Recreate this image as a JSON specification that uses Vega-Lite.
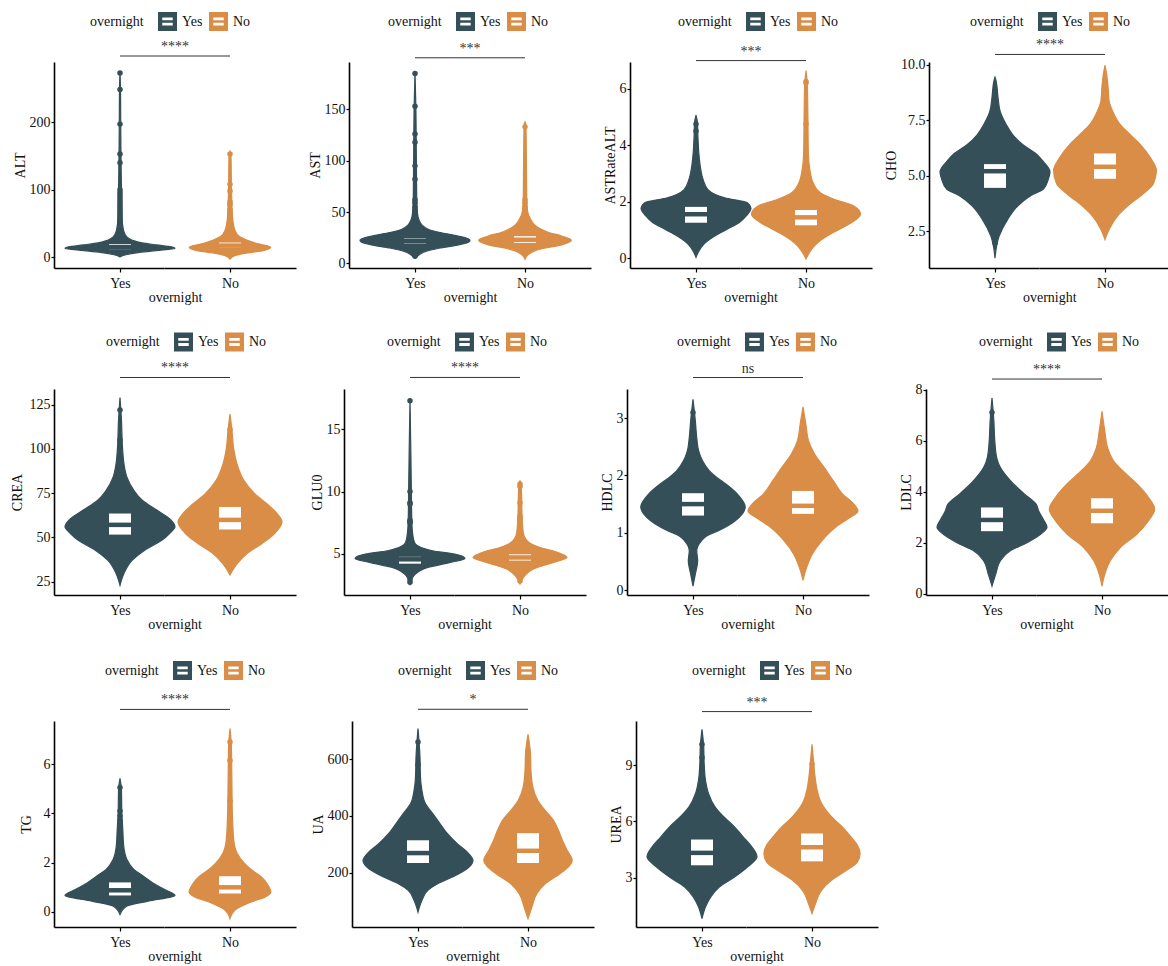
{
"$schema": "https://vega.github.io/schema/vega-lite/v6.json",
"padding": {"left": 10, "top": 12, "right": 0, "bottom": 0},
"background": "white",
"config": {
  "font": "Liberation Serif",
  "view": {"stroke": null},
  "axis": {"labelFont": "Liberation Serif", "titleFont": "Liberation Serif", "labelFontSize": 14, "titleFontSize": 14, "titleFontWeight": "normal", "labelColor": "#111", "titleColor": "#111", "domainColor": "#000", "domainWidth": 1.6, "tickColor": "#000", "tickWidth": 1.2, "tickSize": 3, "labelPadding": 1, "titlePadding": 2, "grid": false},
  "axisX": {"tickSize": 4, "labelPadding": 4},
  "title": {"font": "Liberation Serif", "fontSize": 14, "fontWeight": "normal", "color": "#111", "orient": "bottom", "anchor": "middle", "offset": 1},
  "legend": {"orient": "none", "direction": "horizontal", "titleOrient": "left", "symbolType": "M-1,-1H1V1H-1Z M-0.55,-0.42V-0.12H0.55V-0.42Z M-0.55,0.12V0.42H0.55V0.12Z", "symbolSize": 361, "symbolStrokeWidth": 0, "labelFont": "Liberation Serif", "labelFontSize": 14, "labelColor": "#111", "titleFont": "Liberation Serif", "titleFontSize": 14, "titleFontWeight": "normal", "titleColor": "#111", "labelOffset": 5, "columnPadding": 6, "titlePadding": 14}
},
"datasets": {"all": [
{"v":"ALT","g":"Yes","k":"d","y":0,"d":0},{"v":"ALT","g":"Yes","k":"d","y":3,"d":0.089},{"v":"ALT","g":"Yes","k":"d","y":7,"d":0.357},{"v":"ALT","g":"Yes","k":"d","y":10,"d":0.714},{"v":"ALT","g":"Yes","k":"d","y":12,"d":0.938},{"v":"ALT","g":"Yes","k":"d","y":13,"d":1},{"v":"ALT","g":"Yes","k":"d","y":15,"d":0.938},{"v":"ALT","g":"Yes","k":"d","y":18,"d":0.67},{"v":"ALT","g":"Yes","k":"d","y":21,"d":0.402},{"v":"ALT","g":"Yes","k":"d","y":25,"d":0.223},{"v":"ALT","g":"Yes","k":"d","y":30,"d":0.125},{"v":"ALT","g":"Yes","k":"d","y":40,"d":0.063},{"v":"ALT","g":"Yes","k":"d","y":60,"d":0.036},{"v":"ALT","g":"Yes","k":"d","y":100,"d":0.027},{"v":"ALT","g":"Yes","k":"d","y":150,"d":0.018},{"v":"ALT","g":"Yes","k":"d","y":200,"d":0.013},{"v":"ALT","g":"Yes","k":"d","y":250,"d":0.009},{"v":"ALT","g":"Yes","k":"d","y":275,"d":0},
{"v":"ALT","g":"No","k":"d","y":-3,"d":0},{"v":"ALT","g":"No","k":"d","y":2,"d":0.089},{"v":"ALT","g":"No","k":"d","y":6,"d":0.313},{"v":"ALT","g":"No","k":"d","y":10,"d":0.625},{"v":"ALT","g":"No","k":"d","y":14,"d":0.741},{"v":"ALT","g":"No","k":"d","y":17,"d":0.67},{"v":"ALT","g":"No","k":"d","y":20,"d":0.491},{"v":"ALT","g":"No","k":"d","y":25,"d":0.313},{"v":"ALT","g":"No","k":"d","y":30,"d":0.179},{"v":"ALT","g":"No","k":"d","y":40,"d":0.089},{"v":"ALT","g":"No","k":"d","y":60,"d":0.045},{"v":"ALT","g":"No","k":"d","y":100,"d":0.027},{"v":"ALT","g":"No","k":"d","y":150,"d":0.018},{"v":"ALT","g":"No","k":"d","y":157,"d":0},
{"v":"ALT","g":"Yes","k":"b","q1":11.5,"med":14.5,"q3":19},{"v":"ALT","g":"No","k":"b","q1":14,"med":17,"q3":21.5},
{"v":"ALT","g":"Yes","k":"o","y":273.6},{"v":"ALT","g":"Yes","k":"o","y":249},{"v":"ALT","g":"Yes","k":"o","y":197.5},{"v":"ALT","g":"Yes","k":"o","y":153},{"v":"ALT","g":"Yes","k":"o","y":140},{"v":"ALT","g":"Yes","k":"o","y":100},{"v":"ALT","g":"Yes","k":"o","y":96},{"v":"ALT","g":"Yes","k":"o","y":92},{"v":"ALT","g":"Yes","k":"o","y":88},{"v":"ALT","g":"Yes","k":"o","y":84},{"v":"ALT","g":"Yes","k":"o","y":80},{"v":"ALT","g":"Yes","k":"o","y":76},{"v":"ALT","g":"Yes","k":"o","y":72},{"v":"ALT","g":"Yes","k":"o","y":68},{"v":"ALT","g":"Yes","k":"o","y":64},{"v":"ALT","g":"Yes","k":"o","y":60},{"v":"ALT","g":"Yes","k":"o","y":56},{"v":"ALT","g":"Yes","k":"o","y":52},{"v":"ALT","g":"Yes","k":"o","y":48},{"v":"ALT","g":"Yes","k":"o","y":44},{"v":"ALT","g":"Yes","k":"o","y":40},
{"v":"ALT","g":"No","k":"o","y":153},{"v":"ALT","g":"No","k":"o","y":108},{"v":"ALT","g":"No","k":"o","y":98},{"v":"ALT","g":"No","k":"o","y":82},{"v":"ALT","g":"No","k":"o","y":78},{"v":"ALT","g":"No","k":"o","y":70},{"v":"ALT","g":"No","k":"o","y":65},{"v":"ALT","g":"No","k":"o","y":60},{"v":"ALT","g":"No","k":"o","y":56},{"v":"ALT","g":"No","k":"o","y":52},{"v":"ALT","g":"No","k":"o","y":48},{"v":"ALT","g":"No","k":"o","y":44},{"v":"ALT","g":"No","k":"o","y":40},
{"v":"ALT","g":"Yes","k":"s","y":298.7,"lab":"****"},{"v":"ALT","g":"No","k":"s","y":298.7,"lab":"****"},
{"v":"AST","g":"Yes","k":"d","y":5,"d":0},{"v":"AST","g":"Yes","k":"d","y":8,"d":0.067},{"v":"AST","g":"Yes","k":"d","y":12,"d":0.208},{"v":"AST","g":"Yes","k":"d","y":15,"d":0.458},{"v":"AST","g":"Yes","k":"d","y":18,"d":0.792},{"v":"AST","g":"Yes","k":"d","y":21,"d":0.983},{"v":"AST","g":"Yes","k":"d","y":22.5,"d":1},{"v":"AST","g":"Yes","k":"d","y":24,"d":0.967},{"v":"AST","g":"Yes","k":"d","y":27,"d":0.75},{"v":"AST","g":"Yes","k":"d","y":30,"d":0.458},{"v":"AST","g":"Yes","k":"d","y":33,"d":0.25},{"v":"AST","g":"Yes","k":"d","y":37,"d":0.133},{"v":"AST","g":"Yes","k":"d","y":42,"d":0.075},{"v":"AST","g":"Yes","k":"d","y":50,"d":0.042},{"v":"AST","g":"Yes","k":"d","y":60,"d":0.033},{"v":"AST","g":"Yes","k":"d","y":100,"d":0.025},{"v":"AST","g":"Yes","k":"d","y":150,"d":0.017},{"v":"AST","g":"Yes","k":"d","y":187,"d":0},
{"v":"AST","g":"No","k":"d","y":4,"d":0},{"v":"AST","g":"No","k":"d","y":8,"d":0.05},{"v":"AST","g":"No","k":"d","y":12,"d":0.167},{"v":"AST","g":"No","k":"d","y":15,"d":0.375},{"v":"AST","g":"No","k":"d","y":18,"d":0.667},{"v":"AST","g":"No","k":"d","y":21,"d":0.817},{"v":"AST","g":"No","k":"d","y":22.5,"d":0.842},{"v":"AST","g":"No","k":"d","y":24,"d":0.808},{"v":"AST","g":"No","k":"d","y":27,"d":0.65},{"v":"AST","g":"No","k":"d","y":30,"d":0.433},{"v":"AST","g":"No","k":"d","y":34,"d":0.267},{"v":"AST","g":"No","k":"d","y":38,"d":0.167},{"v":"AST","g":"No","k":"d","y":44,"d":0.092},{"v":"AST","g":"No","k":"d","y":50,"d":0.05},{"v":"AST","g":"No","k":"d","y":60,"d":0.033},{"v":"AST","g":"No","k":"d","y":100,"d":0.025},{"v":"AST","g":"No","k":"d","y":135,"d":0.017},{"v":"AST","g":"No","k":"d","y":138,"d":0},
{"v":"AST","g":"Yes","k":"b","q1":19.5,"med":22,"q3":24.5},{"v":"AST","g":"No","k":"b","q1":20,"med":23,"q3":26.5},
{"v":"AST","g":"Yes","k":"o","y":185},{"v":"AST","g":"Yes","k":"o","y":153},{"v":"AST","g":"Yes","k":"o","y":126},{"v":"AST","g":"Yes","k":"o","y":118},{"v":"AST","g":"Yes","k":"o","y":95},{"v":"AST","g":"Yes","k":"o","y":82},{"v":"AST","g":"Yes","k":"o","y":62},{"v":"AST","g":"Yes","k":"o","y":59},{"v":"AST","g":"Yes","k":"o","y":55},{"v":"AST","g":"Yes","k":"o","y":52},{"v":"AST","g":"Yes","k":"o","y":49},{"v":"AST","g":"Yes","k":"o","y":46},{"v":"AST","g":"Yes","k":"o","y":43},{"v":"AST","g":"Yes","k":"o","y":7},{"v":"AST","g":"Yes","k":"o","y":9},
{"v":"AST","g":"No","k":"o","y":133},{"v":"AST","g":"No","k":"o","y":62},{"v":"AST","g":"No","k":"o","y":59},{"v":"AST","g":"No","k":"o","y":55},{"v":"AST","g":"No","k":"o","y":51},{"v":"AST","g":"No","k":"o","y":48},{"v":"AST","g":"No","k":"o","y":45},
{"v":"AST","g":"Yes","k":"s","y":200.3,"lab":"***"},{"v":"AST","g":"No","k":"s","y":200.3,"lab":"***"},
{"v":"ASTRateALT","g":"Yes","k":"d","y":0.04,"d":0},{"v":"ASTRateALT","g":"Yes","k":"d","y":0.56,"d":0.174},{"v":"ASTRateALT","g":"Yes","k":"d","y":0.8,"d":0.348},{"v":"ASTRateALT","g":"Yes","k":"d","y":1.03,"d":0.565},{"v":"ASTRateALT","g":"Yes","k":"d","y":1.26,"d":0.783},{"v":"ASTRateALT","g":"Yes","k":"d","y":1.5,"d":0.913},{"v":"ASTRateALT","g":"Yes","k":"d","y":1.77,"d":1},{"v":"ASTRateALT","g":"Yes","k":"d","y":1.96,"d":0.939},{"v":"ASTRateALT","g":"Yes","k":"d","y":2.14,"d":0.522},{"v":"ASTRateALT","g":"Yes","k":"d","y":2.43,"d":0.217},{"v":"ASTRateALT","g":"Yes","k":"d","y":2.78,"d":0.13},{"v":"ASTRateALT","g":"Yes","k":"d","y":3.25,"d":0.078},{"v":"ASTRateALT","g":"Yes","k":"d","y":3.7,"d":0.052},{"v":"ASTRateALT","g":"Yes","k":"d","y":4.3,"d":0.035},{"v":"ASTRateALT","g":"Yes","k":"d","y":4.8,"d":0.026},{"v":"ASTRateALT","g":"Yes","k":"d","y":5.06,"d":0},
{"v":"ASTRateALT","g":"No","k":"d","y":-0.02,"d":0},{"v":"ASTRateALT","g":"No","k":"d","y":0.56,"d":0.217},{"v":"ASTRateALT","g":"No","k":"d","y":0.8,"d":0.391},{"v":"ASTRateALT","g":"No","k":"d","y":1.03,"d":0.609},{"v":"ASTRateALT","g":"No","k":"d","y":1.26,"d":0.826},{"v":"ASTRateALT","g":"No","k":"d","y":1.56,"d":0.991},{"v":"ASTRateALT","g":"No","k":"d","y":1.85,"d":0.87},{"v":"ASTRateALT","g":"No","k":"d","y":2.08,"d":0.522},{"v":"ASTRateALT","g":"No","k":"d","y":2.32,"d":0.261},{"v":"ASTRateALT","g":"No","k":"d","y":2.67,"d":0.13},{"v":"ASTRateALT","g":"No","k":"d","y":3.13,"d":0.07},{"v":"ASTRateALT","g":"No","k":"d","y":3.7,"d":0.043},{"v":"ASTRateALT","g":"No","k":"d","y":4.9,"d":0.035},{"v":"ASTRateALT","g":"No","k":"d","y":6.06,"d":0.026},{"v":"ASTRateALT","g":"No","k":"d","y":6.64,"d":0},
{"v":"ASTRateALT","g":"Yes","k":"b","q1":1.26,"med":1.56,"q3":1.82},{"v":"ASTRateALT","g":"No","k":"b","q1":1.17,"med":1.45,"q3":1.71},
{"v":"ASTRateALT","g":"Yes","k":"o","y":4.75},{"v":"ASTRateALT","g":"Yes","k":"o","y":4.5},{"v":"ASTRateALT","g":"Yes","k":"o","y":4.0},{"v":"ASTRateALT","g":"Yes","k":"o","y":3.65},{"v":"ASTRateALT","g":"Yes","k":"o","y":3.45},{"v":"ASTRateALT","g":"Yes","k":"o","y":3.25},{"v":"ASTRateALT","g":"Yes","k":"o","y":3.05},{"v":"ASTRateALT","g":"Yes","k":"o","y":2.9},{"v":"ASTRateALT","g":"Yes","k":"o","y":2.8},
{"v":"ASTRateALT","g":"No","k":"o","y":6.25},{"v":"ASTRateALT","g":"No","k":"o","y":6.2},{"v":"ASTRateALT","g":"No","k":"o","y":4.75},{"v":"ASTRateALT","g":"No","k":"o","y":3.35},{"v":"ASTRateALT","g":"No","k":"o","y":3.2},{"v":"ASTRateALT","g":"No","k":"o","y":3.0},{"v":"ASTRateALT","g":"No","k":"o","y":2.9},
{"v":"ASTRateALT","g":"Yes","k":"s","y":6.99,"lab":"***"},{"v":"ASTRateALT","g":"No","k":"s","y":6.99,"lab":"***"},
{"v":"CHO","g":"Yes","k":"d","y":1.28,"d":0},{"v":"CHO","g":"Yes","k":"d","y":2.27,"d":0.074},{"v":"CHO","g":"Yes","k":"d","y":3.03,"d":0.231},{"v":"CHO","g":"Yes","k":"d","y":3.64,"d":0.417},{"v":"CHO","g":"Yes","k":"d","y":4.1,"d":0.648},{"v":"CHO","g":"Yes","k":"d","y":4.4,"d":0.88},{"v":"CHO","g":"Yes","k":"d","y":4.86,"d":0.972},{"v":"CHO","g":"Yes","k":"d","y":5.17,"d":1},{"v":"CHO","g":"Yes","k":"d","y":5.63,"d":0.88},{"v":"CHO","g":"Yes","k":"d","y":6.0,"d":0.741},{"v":"CHO","g":"Yes","k":"d","y":6.39,"d":0.509},{"v":"CHO","g":"Yes","k":"d","y":6.84,"d":0.324},{"v":"CHO","g":"Yes","k":"d","y":7.3,"d":0.204},{"v":"CHO","g":"Yes","k":"d","y":7.9,"d":0.093},{"v":"CHO","g":"Yes","k":"d","y":8.5,"d":0.056},{"v":"CHO","g":"Yes","k":"d","y":9.28,"d":0.019},{"v":"CHO","g":"Yes","k":"d","y":9.44,"d":0},
{"v":"CHO","g":"No","k":"d","y":2.12,"d":0},{"v":"CHO","g":"No","k":"d","y":2.58,"d":0.074},{"v":"CHO","g":"No","k":"d","y":3.19,"d":0.231},{"v":"CHO","g":"No","k":"d","y":3.64,"d":0.417},{"v":"CHO","g":"No","k":"d","y":4.18,"d":0.694},{"v":"CHO","g":"No","k":"d","y":4.63,"d":0.88},{"v":"CHO","g":"No","k":"d","y":5.24,"d":0.935},{"v":"CHO","g":"No","k":"d","y":5.78,"d":0.833},{"v":"CHO","g":"No","k":"d","y":6.39,"d":0.648},{"v":"CHO","g":"No","k":"d","y":6.84,"d":0.463},{"v":"CHO","g":"No","k":"d","y":7.3,"d":0.278},{"v":"CHO","g":"No","k":"d","y":7.9,"d":0.139},{"v":"CHO","g":"No","k":"d","y":8.37,"d":0.074},{"v":"CHO","g":"No","k":"d","y":8.98,"d":0.056},{"v":"CHO","g":"No","k":"d","y":9.6,"d":0.028},{"v":"CHO","g":"No","k":"d","y":9.97,"d":0},
{"v":"CHO","g":"Yes","k":"b","q1":4.45,"med":5.2,"q3":5.52},{"v":"CHO","g":"No","k":"b","q1":4.86,"med":5.4,"q3":6.0},
{"v":"CHO","g":"Yes","k":"o","y":8.8},{"v":"CHO","g":"Yes","k":"o","y":8.6},{"v":"CHO","g":"Yes","k":"o","y":8.45},{"v":"CHO","g":"Yes","k":"o","y":8.25},{"v":"CHO","g":"Yes","k":"o","y":2.2},{"v":"CHO","g":"Yes","k":"o","y":1.95},
{"v":"CHO","g":"No","k":"o","y":9.1},{"v":"CHO","g":"No","k":"o","y":8.4},
{"v":"CHO","g":"Yes","k":"s","y":10.46,"lab":"****"},{"v":"CHO","g":"No","k":"s","y":10.46,"lab":"****"},
{"v":"CREA","g":"Yes","k":"d","y":23,"d":0},{"v":"CREA","g":"Yes","k":"d","y":29.7,"d":0.072},{"v":"CREA","g":"Yes","k":"d","y":37.2,"d":0.225},{"v":"CREA","g":"Yes","k":"d","y":42.8,"d":0.45},{"v":"CREA","g":"Yes","k":"d","y":48.5,"d":0.766},{"v":"CREA","g":"Yes","k":"d","y":52.2,"d":0.901},{"v":"CREA","g":"Yes","k":"d","y":56,"d":1},{"v":"CREA","g":"Yes","k":"d","y":60.6,"d":0.901},{"v":"CREA","g":"Yes","k":"d","y":65.3,"d":0.676},{"v":"CREA","g":"Yes","k":"d","y":71,"d":0.405},{"v":"CREA","g":"Yes","k":"d","y":76.6,"d":0.252},{"v":"CREA","g":"Yes","k":"d","y":84,"d":0.126},{"v":"CREA","g":"Yes","k":"d","y":91.6,"d":0.072},{"v":"CREA","g":"Yes","k":"d","y":101,"d":0.045},{"v":"CREA","g":"Yes","k":"d","y":116,"d":0.027},{"v":"CREA","g":"Yes","k":"d","y":129,"d":0},
{"v":"CREA","g":"No","k":"d","y":28.8,"d":0},{"v":"CREA","g":"No","k":"d","y":35.3,"d":0.135},{"v":"CREA","g":"No","k":"d","y":41,"d":0.315},{"v":"CREA","g":"No","k":"d","y":46.6,"d":0.586},{"v":"CREA","g":"No","k":"d","y":52.2,"d":0.811},{"v":"CREA","g":"No","k":"d","y":58.8,"d":0.946},{"v":"CREA","g":"No","k":"d","y":63.5,"d":0.856},{"v":"CREA","g":"No","k":"d","y":68.2,"d":0.703},{"v":"CREA","g":"No","k":"d","y":74.7,"d":0.45},{"v":"CREA","g":"No","k":"d","y":82.2,"d":0.252},{"v":"CREA","g":"No","k":"d","y":91.6,"d":0.126},{"v":"CREA","g":"No","k":"d","y":101,"d":0.063},{"v":"CREA","g":"No","k":"d","y":110.4,"d":0.036},{"v":"CREA","g":"No","k":"d","y":119.7,"d":0},
{"v":"CREA","g":"Yes","k":"b","q1":51.6,"med":57.1,"q3":63.5},{"v":"CREA","g":"No","k":"b","q1":54.5,"med":59.9,"q3":67.2},
{"v":"CREA","g":"Yes","k":"o","y":122},{"v":"CREA","g":"Yes","k":"o","y":105},{"v":"CREA","g":"Yes","k":"o","y":96},{"v":"CREA","g":"Yes","k":"o","y":94},{"v":"CREA","g":"Yes","k":"o","y":92},{"v":"CREA","g":"Yes","k":"o","y":30},
{"v":"CREA","g":"No","k":"o","y":111},{"v":"CREA","g":"No","k":"o","y":104},{"v":"CREA","g":"No","k":"o","y":101},
{"v":"CREA","g":"Yes","k":"s","y":140.3,"lab":"****"},{"v":"CREA","g":"No","k":"s","y":140.3,"lab":"****"},
{"v":"GLU0","g":"Yes","k":"d","y":2.56,"d":0},{"v":"GLU0","g":"Yes","k":"d","y":3.36,"d":0.098},{"v":"GLU0","g":"Yes","k":"d","y":3.9,"d":0.325},{"v":"GLU0","g":"Yes","k":"d","y":4.3,"d":0.732},{"v":"GLU0","g":"Yes","k":"d","y":4.62,"d":1},{"v":"GLU0","g":"Yes","k":"d","y":4.97,"d":0.813},{"v":"GLU0","g":"Yes","k":"d","y":5.24,"d":0.407},{"v":"GLU0","g":"Yes","k":"d","y":5.5,"d":0.203},{"v":"GLU0","g":"Yes","k":"d","y":5.9,"d":0.081},{"v":"GLU0","g":"Yes","k":"d","y":6.58,"d":0.049},{"v":"GLU0","g":"Yes","k":"d","y":7.65,"d":0.033},{"v":"GLU0","g":"Yes","k":"d","y":10.3,"d":0.024},{"v":"GLU0","g":"Yes","k":"d","y":13,"d":0.016},{"v":"GLU0","g":"Yes","k":"d","y":17.4,"d":0},
{"v":"GLU0","g":"No","k":"d","y":2.56,"d":0},{"v":"GLU0","g":"No","k":"d","y":3.2,"d":0.081},{"v":"GLU0","g":"No","k":"d","y":3.77,"d":0.244},{"v":"GLU0","g":"No","k":"d","y":4.3,"d":0.61},{"v":"GLU0","g":"No","k":"d","y":4.7,"d":0.854},{"v":"GLU0","g":"No","k":"d","y":5.1,"d":0.691},{"v":"GLU0","g":"No","k":"d","y":5.5,"d":0.366},{"v":"GLU0","g":"No","k":"d","y":5.9,"d":0.163},{"v":"GLU0","g":"No","k":"d","y":6.6,"d":0.065},{"v":"GLU0","g":"No","k":"d","y":7.65,"d":0.041},{"v":"GLU0","g":"No","k":"d","y":10.3,"d":0.024},{"v":"GLU0","g":"No","k":"d","y":10.9,"d":0},
{"v":"GLU0","g":"Yes","k":"b","q1":4.2,"med":4.55,"q3":4.75},{"v":"GLU0","g":"No","k":"b","q1":4.45,"med":4.7,"q3":4.95},
{"v":"GLU0","g":"Yes","k":"o","y":17.3},{"v":"GLU0","g":"Yes","k":"o","y":10.0},{"v":"GLU0","g":"Yes","k":"o","y":9.1},{"v":"GLU0","g":"Yes","k":"o","y":9.0},{"v":"GLU0","g":"Yes","k":"o","y":7.7},{"v":"GLU0","g":"Yes","k":"o","y":7.6},{"v":"GLU0","g":"Yes","k":"o","y":7.5},{"v":"GLU0","g":"Yes","k":"o","y":6.6},{"v":"GLU0","g":"Yes","k":"o","y":6.3},{"v":"GLU0","g":"Yes","k":"o","y":6.1},{"v":"GLU0","g":"Yes","k":"o","y":2.9},{"v":"GLU0","g":"Yes","k":"o","y":2.7},
{"v":"GLU0","g":"No","k":"o","y":10.6},{"v":"GLU0","g":"No","k":"o","y":10.4},{"v":"GLU0","g":"No","k":"o","y":9.1},{"v":"GLU0","g":"No","k":"o","y":8.0},{"v":"GLU0","g":"No","k":"o","y":7.8},{"v":"GLU0","g":"No","k":"o","y":7.5},{"v":"GLU0","g":"No","k":"o","y":7.2},{"v":"GLU0","g":"No","k":"o","y":6.8},{"v":"GLU0","g":"No","k":"o","y":6.5},{"v":"GLU0","g":"No","k":"o","y":3.0},{"v":"GLU0","g":"No","k":"o","y":2.8},
{"v":"GLU0","g":"Yes","k":"s","y":19.18,"lab":"****"},{"v":"GLU0","g":"No","k":"s","y":19.18,"lab":"****"},
{"v":"HDLC","g":"Yes","k":"d","y":0.07,"d":0},{"v":"HDLC","g":"Yes","k":"d","y":0.28,"d":0.043},{"v":"HDLC","g":"Yes","k":"d","y":0.51,"d":0.085},{"v":"HDLC","g":"Yes","k":"d","y":0.69,"d":0.068},{"v":"HDLC","g":"Yes","k":"d","y":0.86,"d":0.154},{"v":"HDLC","g":"Yes","k":"d","y":0.95,"d":0.256},{"v":"HDLC","g":"Yes","k":"d","y":1.04,"d":0.47},{"v":"HDLC","g":"Yes","k":"d","y":1.21,"d":0.769},{"v":"HDLC","g":"Yes","k":"d","y":1.45,"d":0.949},{"v":"HDLC","g":"Yes","k":"d","y":1.67,"d":0.812},{"v":"HDLC","g":"Yes","k":"d","y":1.85,"d":0.598},{"v":"HDLC","g":"Yes","k":"d","y":1.97,"d":0.427},{"v":"HDLC","g":"Yes","k":"d","y":2.08,"d":0.299},{"v":"HDLC","g":"Yes","k":"d","y":2.26,"d":0.171},{"v":"HDLC","g":"Yes","k":"d","y":2.43,"d":0.103},{"v":"HDLC","g":"Yes","k":"d","y":2.66,"d":0.068},{"v":"HDLC","g":"Yes","k":"d","y":2.95,"d":0.043},{"v":"HDLC","g":"Yes","k":"d","y":3.33,"d":0},
{"v":"HDLC","g":"No","k":"d","y":0.17,"d":0},{"v":"HDLC","g":"No","k":"d","y":0.4,"d":0.068},{"v":"HDLC","g":"No","k":"d","y":0.63,"d":0.171},{"v":"HDLC","g":"No","k":"d","y":0.86,"d":0.342},{"v":"HDLC","g":"No","k":"d","y":1.1,"d":0.598},{"v":"HDLC","g":"No","k":"d","y":1.24,"d":0.812},{"v":"HDLC","g":"No","k":"d","y":1.38,"d":1},{"v":"HDLC","g":"No","k":"d","y":1.53,"d":0.897},{"v":"HDLC","g":"No","k":"d","y":1.67,"d":0.726},{"v":"HDLC","g":"No","k":"d","y":1.9,"d":0.556},{"v":"HDLC","g":"No","k":"d","y":2.14,"d":0.385},{"v":"HDLC","g":"No","k":"d","y":2.37,"d":0.214},{"v":"HDLC","g":"No","k":"d","y":2.6,"d":0.103},{"v":"HDLC","g":"No","k":"d","y":2.9,"d":0.051},{"v":"HDLC","g":"No","k":"d","y":3.2,"d":0},
{"v":"HDLC","g":"Yes","k":"b","q1":1.3,"med":1.5,"q3":1.69},{"v":"HDLC","g":"No","k":"b","q1":1.33,"med":1.47,"q3":1.73},
{"v":"HDLC","g":"Yes","k":"o","y":3.1},{"v":"HDLC","g":"Yes","k":"o","y":2.85},{"v":"HDLC","g":"Yes","k":"o","y":2.8},{"v":"HDLC","g":"Yes","k":"o","y":0.5},
{"v":"HDLC","g":"No","k":"o","y":2.9},{"v":"HDLC","g":"No","k":"o","y":2.85},
{"v":"HDLC","g":"Yes","k":"s","y":3.71,"lab":"ns"},{"v":"HDLC","g":"No","k":"s","y":3.71,"lab":"ns"},
{"v":"LDLC","g":"Yes","k":"d","y":0.3,"d":0},{"v":"LDLC","g":"Yes","k":"d","y":0.77,"d":0.068},{"v":"LDLC","g":"Yes","k":"d","y":1.3,"d":0.153},{"v":"LDLC","g":"Yes","k":"d","y":1.69,"d":0.339},{"v":"LDLC","g":"Yes","k":"d","y":2.0,"d":0.636},{"v":"LDLC","g":"Yes","k":"d","y":2.34,"d":0.89},{"v":"LDLC","g":"Yes","k":"d","y":2.6,"d":1},{"v":"LDLC","g":"Yes","k":"d","y":2.92,"d":0.932},{"v":"LDLC","g":"Yes","k":"d","y":3.25,"d":0.847},{"v":"LDLC","g":"Yes","k":"d","y":3.5,"d":0.805},{"v":"LDLC","g":"Yes","k":"d","y":3.9,"d":0.593},{"v":"LDLC","g":"Yes","k":"d","y":4.42,"d":0.339},{"v":"LDLC","g":"Yes","k":"d","y":4.94,"d":0.153},{"v":"LDLC","g":"Yes","k":"d","y":5.33,"d":0.085},{"v":"LDLC","g":"Yes","k":"d","y":5.98,"d":0.051},{"v":"LDLC","g":"Yes","k":"d","y":6.76,"d":0.034},{"v":"LDLC","g":"Yes","k":"d","y":7.67,"d":0},
{"v":"LDLC","g":"No","k":"d","y":0.3,"d":0},{"v":"LDLC","g":"No","k":"d","y":0.77,"d":0.051},{"v":"LDLC","g":"No","k":"d","y":1.3,"d":0.153},{"v":"LDLC","g":"No","k":"d","y":1.82,"d":0.339},{"v":"LDLC","g":"No","k":"d","y":2.34,"d":0.636},{"v":"LDLC","g":"No","k":"d","y":2.86,"d":0.847},{"v":"LDLC","g":"No","k":"d","y":3.32,"d":0.958},{"v":"LDLC","g":"No","k":"d","y":3.77,"d":0.847},{"v":"LDLC","g":"No","k":"d","y":4.3,"d":0.636},{"v":"LDLC","g":"No","k":"d","y":4.81,"d":0.381},{"v":"LDLC","g":"No","k":"d","y":5.2,"d":0.212},{"v":"LDLC","g":"No","k":"d","y":5.72,"d":0.102},{"v":"LDLC","g":"No","k":"d","y":6.37,"d":0.051},{"v":"LDLC","g":"No","k":"d","y":7.15,"d":0},
{"v":"LDLC","g":"Yes","k":"b","q1":2.45,"med":2.89,"q3":3.38},{"v":"LDLC","g":"No","k":"b","q1":2.76,"med":3.25,"q3":3.74},
{"v":"LDLC","g":"Yes","k":"o","y":7.1},{"v":"LDLC","g":"Yes","k":"o","y":5.4},
{"v":"LDLC","g":"No","k":"o","y":6.4},{"v":"LDLC","g":"No","k":"o","y":6.3},
{"v":"LDLC","g":"Yes","k":"s","y":8.41,"lab":"****"},{"v":"LDLC","g":"No","k":"s","y":8.41,"lab":"****"},
{"v":"TG","g":"Yes","k":"d","y":-0.1,"d":0},{"v":"TG","g":"Yes","k":"d","y":0.24,"d":0.128},{"v":"TG","g":"Yes","k":"d","y":0.44,"d":0.513},{"v":"TG","g":"Yes","k":"d","y":0.67,"d":1},{"v":"TG","g":"Yes","k":"d","y":0.91,"d":0.812},{"v":"TG","g":"Yes","k":"d","y":1.18,"d":0.598},{"v":"TG","g":"Yes","k":"d","y":1.45,"d":0.427},{"v":"TG","g":"Yes","k":"d","y":1.72,"d":0.256},{"v":"TG","g":"Yes","k":"d","y":2.12,"d":0.128},{"v":"TG","g":"Yes","k":"d","y":2.66,"d":0.068},{"v":"TG","g":"Yes","k":"d","y":3.33,"d":0.051},{"v":"TG","g":"Yes","k":"d","y":4.0,"d":0.034},{"v":"TG","g":"Yes","k":"d","y":4.95,"d":0.026},{"v":"TG","g":"Yes","k":"d","y":5.42,"d":0},
{"v":"TG","g":"No","k":"d","y":-0.27,"d":0},{"v":"TG","g":"No","k":"d","y":0.1,"d":0.103},{"v":"TG","g":"No","k":"d","y":0.37,"d":0.342},{"v":"TG","g":"No","k":"d","y":0.61,"d":0.641},{"v":"TG","g":"No","k":"d","y":0.8,"d":0.744},{"v":"TG","g":"No","k":"d","y":1.11,"d":0.684},{"v":"TG","g":"No","k":"d","y":1.45,"d":0.556},{"v":"TG","g":"No","k":"d","y":1.72,"d":0.385},{"v":"TG","g":"No","k":"d","y":1.99,"d":0.256},{"v":"TG","g":"No","k":"d","y":2.39,"d":0.128},{"v":"TG","g":"No","k":"d","y":2.93,"d":0.068},{"v":"TG","g":"No","k":"d","y":4.0,"d":0.043},{"v":"TG","g":"No","k":"d","y":5.35,"d":0.034},{"v":"TG","g":"No","k":"d","y":6.7,"d":0.026},{"v":"TG","g":"No","k":"d","y":7.44,"d":0},
{"v":"TG","g":"Yes","k":"b","q1":0.67,"med":0.88,"q3":1.2},{"v":"TG","g":"No","k":"b","q1":0.75,"med":1.0,"q3":1.45},
{"v":"TG","g":"Yes","k":"o","y":5.05},{"v":"TG","g":"Yes","k":"o","y":4.1},{"v":"TG","g":"Yes","k":"o","y":3.9},{"v":"TG","g":"Yes","k":"o","y":3.7},{"v":"TG","g":"Yes","k":"o","y":3.5},{"v":"TG","g":"Yes","k":"o","y":3.3},
{"v":"TG","g":"No","k":"o","y":6.9},{"v":"TG","g":"No","k":"o","y":6.15},{"v":"TG","g":"No","k":"o","y":4.5},{"v":"TG","g":"No","k":"o","y":4.0},{"v":"TG","g":"No","k":"o","y":3.3},{"v":"TG","g":"No","k":"o","y":3.2},{"v":"TG","g":"No","k":"o","y":3.05},
{"v":"TG","g":"Yes","k":"s","y":8.22,"lab":"****"},{"v":"TG","g":"No","k":"s","y":8.22,"lab":"****"},
{"v":"UA","g":"Yes","k":"d","y":61,"d":0},{"v":"UA","g":"Yes","k":"d","y":102,"d":0.071},{"v":"UA","g":"Yes","k":"d","y":138,"d":0.179},{"v":"UA","g":"Yes","k":"d","y":161,"d":0.357},{"v":"UA","g":"Yes","k":"d","y":185,"d":0.625},{"v":"UA","g":"Yes","k":"d","y":214,"d":0.893},{"v":"UA","g":"Yes","k":"d","y":243,"d":1},{"v":"UA","g":"Yes","k":"d","y":273,"d":0.893},{"v":"UA","g":"Yes","k":"d","y":302,"d":0.714},{"v":"UA","g":"Yes","k":"d","y":337,"d":0.536},{"v":"UA","g":"Yes","k":"d","y":372,"d":0.402},{"v":"UA","g":"Yes","k":"d","y":408,"d":0.268},{"v":"UA","g":"Yes","k":"d","y":443,"d":0.134},{"v":"UA","g":"Yes","k":"d","y":490,"d":0.071},{"v":"UA","g":"Yes","k":"d","y":537,"d":0.045},{"v":"UA","g":"Yes","k":"d","y":607,"d":0.036},{"v":"UA","g":"Yes","k":"d","y":707,"d":0},
{"v":"UA","g":"No","k":"d","y":38,"d":0},{"v":"UA","g":"No","k":"d","y":79,"d":0.071},{"v":"UA","g":"No","k":"d","y":126,"d":0.161},{"v":"UA","g":"No","k":"d","y":161,"d":0.313},{"v":"UA","g":"No","k":"d","y":196,"d":0.58},{"v":"UA","g":"No","k":"d","y":226,"d":0.759},{"v":"UA","g":"No","k":"d","y":243,"d":0.804},{"v":"UA","g":"No","k":"d","y":278,"d":0.714},{"v":"UA","g":"No","k":"d","y":314,"d":0.625},{"v":"UA","g":"No","k":"d","y":349,"d":0.554},{"v":"UA","g":"No","k":"d","y":384,"d":0.464},{"v":"UA","g":"No","k":"d","y":419,"d":0.313},{"v":"UA","g":"No","k":"d","y":454,"d":0.179},{"v":"UA","g":"No","k":"d","y":501,"d":0.089},{"v":"UA","g":"No","k":"d","y":560,"d":0.054},{"v":"UA","g":"No","k":"d","y":619,"d":0.045},{"v":"UA","g":"No","k":"d","y":687,"d":0},
{"v":"UA","g":"Yes","k":"b","q1":234,"med":269,"q3":314},{"v":"UA","g":"No","k":"b","q1":234,"med":277,"q3":339},
{"v":"UA","g":"Yes","k":"o","y":660},{"v":"UA","g":"Yes","k":"o","y":580},{"v":"UA","g":"Yes","k":"o","y":545},{"v":"UA","g":"Yes","k":"o","y":515},{"v":"UA","g":"Yes","k":"o","y":500},
{"v":"UA","g":"No","k":"o","y":615},{"v":"UA","g":"No","k":"o","y":590},{"v":"UA","g":"No","k":"o","y":575},
{"v":"UA","g":"Yes","k":"s","y":775,"lab":"*"},{"v":"UA","g":"No","k":"s","y":775,"lab":"*"},
{"v":"UREA","g":"Yes","k":"d","y":0.83,"d":0},{"v":"UREA","g":"Yes","k":"d","y":1.45,"d":0.063},{"v":"UREA","g":"Yes","k":"d","y":1.98,"d":0.157},{"v":"UREA","g":"Yes","k":"d","y":2.52,"d":0.315},{"v":"UREA","g":"Yes","k":"d","y":3.05,"d":0.591},{"v":"UREA","g":"Yes","k":"d","y":3.58,"d":0.827},{"v":"UREA","g":"Yes","k":"d","y":4.12,"d":1},{"v":"UREA","g":"Yes","k":"d","y":4.65,"d":0.906},{"v":"UREA","g":"Yes","k":"d","y":5.18,"d":0.748},{"v":"UREA","g":"Yes","k":"d","y":5.71,"d":0.591},{"v":"UREA","g":"Yes","k":"d","y":6.25,"d":0.394},{"v":"UREA","g":"Yes","k":"d","y":6.78,"d":0.236},{"v":"UREA","g":"Yes","k":"d","y":7.49,"d":0.118},{"v":"UREA","g":"Yes","k":"d","y":8.2,"d":0.063},{"v":"UREA","g":"Yes","k":"d","y":9.09,"d":0.039},{"v":"UREA","g":"Yes","k":"d","y":9.98,"d":0.031},{"v":"UREA","g":"Yes","k":"d","y":10.9,"d":0},
{"v":"UREA","g":"No","k":"d","y":1.1,"d":0},{"v":"UREA","g":"No","k":"d","y":1.63,"d":0.063},{"v":"UREA","g":"No","k":"d","y":2.34,"d":0.173},{"v":"UREA","g":"No","k":"d","y":2.87,"d":0.354},{"v":"UREA","g":"No","k":"d","y":3.4,"d":0.63},{"v":"UREA","g":"No","k":"d","y":3.85,"d":0.827},{"v":"UREA","g":"No","k":"d","y":4.3,"d":0.874},{"v":"UREA","g":"No","k":"d","y":4.74,"d":0.827},{"v":"UREA","g":"No","k":"d","y":5.18,"d":0.709},{"v":"UREA","g":"No","k":"d","y":5.71,"d":0.551},{"v":"UREA","g":"No","k":"d","y":6.25,"d":0.354},{"v":"UREA","g":"No","k":"d","y":6.96,"d":0.173},{"v":"UREA","g":"No","k":"d","y":7.67,"d":0.094},{"v":"UREA","g":"No","k":"d","y":8.38,"d":0.055},{"v":"UREA","g":"No","k":"d","y":9.09,"d":0.031},{"v":"UREA","g":"No","k":"d","y":10.1,"d":0},
{"v":"UREA","g":"Yes","k":"b","q1":3.67,"med":4.33,"q3":5.04},{"v":"UREA","g":"No","k":"b","q1":3.88,"med":4.63,"q3":5.36},
{"v":"UREA","g":"Yes","k":"o","y":10.1},{"v":"UREA","g":"Yes","k":"o","y":9.4},{"v":"UREA","g":"Yes","k":"o","y":8.6},{"v":"UREA","g":"Yes","k":"o","y":8.2},
{"v":"UREA","g":"No","k":"o","y":9.05},
{"v":"UREA","g":"Yes","k":"s","y":11.84,"lab":"***"},{"v":"UREA","g":"No","k":"s","y":11.84,"lab":"***"}
]},
"data": {"name": "all"},
"resolve": {"scale": {"color": "independent"}, "legend": {"color": "independent"}},
"spacing": 27,
"vconcat": [
{"spacing": 12, "resolve": {"scale": {"color": "independent"}, "legend": {"color": "independent"}}, "hconcat": [
{"spacing": 0, "bounds": "flush", "resolve": {"scale": {"y": "shared"}}, "title": {"text": "overnight", "dx": 21}, "hconcat": [
 {"transform": [{"filter": "datum.v === 'ALT' && datum.g === 'Yes'"}], "width": 110, "height": 206, "layer": [
  {"transform": [{"filter": "datum.k === 'd'"}], "mark": {"type": "area", "orient": "horizontal", "interpolate": "monotone", "stroke": "#354f58", "strokeWidth": 1.2}, "encoding": {
    "y": {"field": "y", "type": "quantitative", "title": "ALT", "scale": {"domain": [-16.3, 289.8], "nice": false, "zero": false}, "axis": {"values": [0, 100, 200]}},
    "x": {"field": "d", "type": "quantitative", "stack": "center", "impute": null, "scale": {"domain": [-0.1, 0.9], "nice": false, "zero": false}, "axis": {"values": [0.5], "labelExpr": "'Yes'", "title": null}},
    "color": {"field": "g", "type": "nominal", "scale": {"domain": ["Yes", "No"], "range": ["#354f58", "#d98d46"]}, "legend": {"title": "overnight", "orient": "none", "legendX": 36, "legendY": -50}}}},
  {"transform": [{"filter": "datum.k === 'b'"}], "mark": {"type": "rect", "fill": "white"}, "encoding": {"x": {"datum": 0.4}, "x2": {"datum": 0.6}, "y": {"field": "q1", "type": "quantitative"}, "y2": {"field": "q3"}}},
  {"transform": [{"filter": "datum.k === 'b'"}], "mark": {"type": "rule", "strokeWidth": 4.5, "color": "#354f58"}, "encoding": {"x": {"datum": 0.4}, "x2": {"datum": 0.6}, "y": {"field": "med", "type": "quantitative"}}},
  {"transform": [{"filter": "datum.k === 'o'"}], "mark": {"type": "circle", "size": 30, "opacity": 1, "color": "#354f58"}, "encoding": {"x": {"datum": 0.5}, "y": {"field": "y", "type": "quantitative"}}},
  {"transform": [{"filter": "datum.k === 's'"}], "mark": {"type": "rule", "color": "#333", "strokeWidth": 1}, "encoding": {"x": {"datum": 0.5}, "x2": {"datum": 0.9}, "y": {"field": "y", "type": "quantitative"}}}
 ]},
 {"transform": [{"filter": "datum.v === 'ALT' && datum.g === 'No'"}], "width": 132, "height": 206, "layer": [
  {"transform": [{"filter": "datum.k === 'd'"}], "mark": {"type": "area", "orient": "horizontal", "interpolate": "monotone", "stroke": "#d98d46", "strokeWidth": 1.2}, "encoding": {
    "y": {"field": "y", "type": "quantitative", "scale": {"domain": [-16.3, 289.8], "nice": false, "zero": false}, "axis": null},
    "x": {"field": "d", "type": "quantitative", "stack": "center", "impute": null, "scale": {"domain": [-0.2295, 0.9705], "nice": false, "zero": false}, "axis": {"values": [0.3705], "labelExpr": "'No'", "title": null}},
    "color": {"field": "g", "type": "nominal", "scale": {"domain": ["Yes", "No"], "range": ["#354f58", "#d98d46"]}, "legend": {"title": "overnight", "orient": "none", "legendX": 36, "legendY": -50}}}},
  {"transform": [{"filter": "datum.k === 'b'"}], "mark": {"type": "rect", "fill": "white"}, "encoding": {"x": {"datum": 0.2705}, "x2": {"datum": 0.4705}, "y": {"field": "q1", "type": "quantitative", "axis": null}, "y2": {"field": "q3"}}},
  {"transform": [{"filter": "datum.k === 'b'"}], "mark": {"type": "rule", "strokeWidth": 4.5, "color": "#d98d46"}, "encoding": {"x": {"datum": 0.2705}, "x2": {"datum": 0.4705}, "y": {"field": "med", "type": "quantitative", "axis": null}}},
  {"transform": [{"filter": "datum.k === 'o'"}], "mark": {"type": "circle", "size": 30, "opacity": 1, "color": "#d98d46"}, "encoding": {"x": {"datum": 0.3705}, "y": {"field": "y", "type": "quantitative", "axis": null}}},
  {"transform": [{"filter": "datum.k === 's'"}], "mark": {"type": "rule", "color": "#333", "strokeWidth": 1}, "encoding": {"x": {"datum": -0.2295}, "x2": {"datum": 0.3705}, "y": {"field": "y", "type": "quantitative", "axis": null}}},
  {"transform": [{"filter": "datum.k === 's'"}], "mark": {"type": "text", "fontSize": 14, "dy": -5, "baseline": "alphabetic", "align": "center", "color": "#333", "font": "Liberation Serif"}, "encoding": {"x": {"datum": -0.1295}, "y": {"field": "y", "type": "quantitative", "axis": null}, "text": {"field": "lab"}}}
 ]}
]},
{"spacing": 0, "bounds": "flush", "resolve": {"scale": {"y": "shared"}}, "title": {"text": "overnight", "dx": 21}, "hconcat": [
 {"transform": [{"filter": "datum.v === 'AST' && datum.g === 'Yes'"}], "width": 110, "height": 206, "layer": [
  {"transform": [{"filter": "datum.k === 'd'"}], "mark": {"type": "area", "orient": "horizontal", "interpolate": "monotone", "stroke": "#354f58", "strokeWidth": 1.2}, "encoding": {
    "y": {"field": "y", "type": "quantitative", "title": "AST", "scale": {"domain": [-4.5, 196.2], "nice": false, "zero": false}, "axis": {"values": [0, 50, 100, 150]}},
    "x": {"field": "d", "type": "quantitative", "stack": "center", "impute": null, "scale": {"domain": [-0.1, 0.9], "nice": false, "zero": false}, "axis": {"values": [0.5], "labelExpr": "'Yes'", "title": null}},
    "color": {"field": "g", "type": "nominal", "scale": {"domain": ["Yes", "No"], "range": ["#354f58", "#d98d46"]}, "legend": {"title": "overnight", "orient": "none", "legendX": 39, "legendY": -50}}}},
  {"transform": [{"filter": "datum.k === 'b'"}], "mark": {"type": "rect", "fill": "white"}, "encoding": {"x": {"datum": 0.4}, "x2": {"datum": 0.6}, "y": {"field": "q1", "type": "quantitative"}, "y2": {"field": "q3"}}},
  {"transform": [{"filter": "datum.k === 'b'"}], "mark": {"type": "rule", "strokeWidth": 4.5, "color": "#354f58"}, "encoding": {"x": {"datum": 0.4}, "x2": {"datum": 0.6}, "y": {"field": "med", "type": "quantitative"}}},
  {"transform": [{"filter": "datum.k === 'o'"}], "mark": {"type": "circle", "size": 30, "opacity": 1, "color": "#354f58"}, "encoding": {"x": {"datum": 0.5}, "y": {"field": "y", "type": "quantitative"}}},
  {"transform": [{"filter": "datum.k === 's'"}], "mark": {"type": "rule", "color": "#333", "strokeWidth": 1}, "encoding": {"x": {"datum": 0.5}, "x2": {"datum": 0.9}, "y": {"field": "y", "type": "quantitative"}}}
 ]},
 {"transform": [{"filter": "datum.v === 'AST' && datum.g === 'No'"}], "width": 132, "height": 206, "layer": [
  {"transform": [{"filter": "datum.k === 'd'"}], "mark": {"type": "area", "orient": "horizontal", "interpolate": "monotone", "stroke": "#d98d46", "strokeWidth": 1.2}, "encoding": {
    "y": {"field": "y", "type": "quantitative", "scale": {"domain": [-4.5, 196.2], "nice": false, "zero": false}, "axis": null},
    "x": {"field": "d", "type": "quantitative", "stack": "center", "impute": null, "scale": {"domain": [-0.179, 1.021], "nice": false, "zero": false}, "axis": {"values": [0.421], "labelExpr": "'No'", "title": null}},
    "color": {"field": "g", "type": "nominal", "scale": {"domain": ["Yes", "No"], "range": ["#354f58", "#d98d46"]}, "legend": {"title": "overnight", "orient": "none", "legendX": 39, "legendY": -50}}}},
  {"transform": [{"filter": "datum.k === 'b'"}], "mark": {"type": "rect", "fill": "white"}, "encoding": {"x": {"datum": 0.321}, "x2": {"datum": 0.521}, "y": {"field": "q1", "type": "quantitative", "axis": null}, "y2": {"field": "q3"}}},
  {"transform": [{"filter": "datum.k === 'b'"}], "mark": {"type": "rule", "strokeWidth": 4.5, "color": "#d98d46"}, "encoding": {"x": {"datum": 0.321}, "x2": {"datum": 0.521}, "y": {"field": "med", "type": "quantitative", "axis": null}}},
  {"transform": [{"filter": "datum.k === 'o'"}], "mark": {"type": "circle", "size": 30, "opacity": 1, "color": "#d98d46"}, "encoding": {"x": {"datum": 0.421}, "y": {"field": "y", "type": "quantitative", "axis": null}}},
  {"transform": [{"filter": "datum.k === 's'"}], "mark": {"type": "rule", "color": "#333", "strokeWidth": 1}, "encoding": {"x": {"datum": -0.179}, "x2": {"datum": 0.421}, "y": {"field": "y", "type": "quantitative", "axis": null}}},
  {"transform": [{"filter": "datum.k === 's'"}], "mark": {"type": "text", "fontSize": 14, "dy": -5, "baseline": "alphabetic", "align": "center", "color": "#333", "font": "Liberation Serif"}, "encoding": {"x": {"datum": -0.079}, "y": {"field": "y", "type": "quantitative", "axis": null}, "text": {"field": "lab"}}}
 ]}
]},
{"spacing": 0, "bounds": "flush", "resolve": {"scale": {"y": "shared"}}, "title": {"text": "overnight", "dx": 13.5}, "hconcat": [
 {"transform": [{"filter": "datum.v === 'ASTRateALT' && datum.g === 'Yes'"}], "width": 110, "height": 206, "layer": [
  {"transform": [{"filter": "datum.k === 'd'"}], "mark": {"type": "area", "orient": "horizontal", "interpolate": "monotone", "stroke": "#354f58", "strokeWidth": 1.2}, "encoding": {
    "y": {"field": "y", "type": "quantitative", "title": "ASTRateALT", "scale": {"domain": [-0.34, 6.94], "nice": false, "zero": false}, "axis": {"values": [0, 2, 4, 6]}},
    "x": {"field": "d", "type": "quantitative", "stack": "center", "impute": null, "scale": {"domain": [-0.1, 0.9], "nice": false, "zero": false}, "axis": {"values": [0.5], "labelExpr": "'Yes'", "title": null}},
    "color": {"field": "g", "type": "nominal", "scale": {"domain": ["Yes", "No"], "range": ["#354f58", "#d98d46"]}, "legend": {"title": "overnight", "orient": "none", "legendX": 48, "legendY": -50}}}},
  {"transform": [{"filter": "datum.k === 'b'"}], "mark": {"type": "rect", "fill": "white"}, "encoding": {"x": {"datum": 0.4}, "x2": {"datum": 0.6}, "y": {"field": "q1", "type": "quantitative"}, "y2": {"field": "q3"}}},
  {"transform": [{"filter": "datum.k === 'b'"}], "mark": {"type": "rule", "strokeWidth": 4.5, "color": "#354f58"}, "encoding": {"x": {"datum": 0.4}, "x2": {"datum": 0.6}, "y": {"field": "med", "type": "quantitative"}}},
  {"transform": [{"filter": "datum.k === 'o'"}], "mark": {"type": "circle", "size": 30, "opacity": 1, "color": "#354f58"}, "encoding": {"x": {"datum": 0.5}, "y": {"field": "y", "type": "quantitative"}}},
  {"transform": [{"filter": "datum.k === 's'"}], "mark": {"type": "rule", "color": "#333", "strokeWidth": 1}, "encoding": {"x": {"datum": 0.5}, "x2": {"datum": 0.9}, "y": {"field": "y", "type": "quantitative"}}}
 ]},
 {"transform": [{"filter": "datum.v === 'ASTRateALT' && datum.g === 'No'"}], "width": 132, "height": 206, "layer": [
  {"transform": [{"filter": "datum.k === 'd'"}], "mark": {"type": "area", "orient": "horizontal", "interpolate": "monotone", "stroke": "#d98d46", "strokeWidth": 1.2}, "encoding": {
    "y": {"field": "y", "type": "quantitative", "scale": {"domain": [-0.34, 6.94], "nice": false, "zero": false}, "axis": null},
    "x": {"field": "d", "type": "quantitative", "stack": "center", "impute": null, "scale": {"domain": [-0.1045, 1.0955], "nice": false, "zero": false}, "axis": {"values": [0.4955], "labelExpr": "'No'", "title": null}},
    "color": {"field": "g", "type": "nominal", "scale": {"domain": ["Yes", "No"], "range": ["#354f58", "#d98d46"]}, "legend": {"title": "overnight", "orient": "none", "legendX": 48, "legendY": -50}}}},
  {"transform": [{"filter": "datum.k === 'b'"}], "mark": {"type": "rect", "fill": "white"}, "encoding": {"x": {"datum": 0.3955}, "x2": {"datum": 0.5955}, "y": {"field": "q1", "type": "quantitative", "axis": null}, "y2": {"field": "q3"}}},
  {"transform": [{"filter": "datum.k === 'b'"}], "mark": {"type": "rule", "strokeWidth": 4.5, "color": "#d98d46"}, "encoding": {"x": {"datum": 0.3955}, "x2": {"datum": 0.5955}, "y": {"field": "med", "type": "quantitative", "axis": null}}},
  {"transform": [{"filter": "datum.k === 'o'"}], "mark": {"type": "circle", "size": 30, "opacity": 1, "color": "#d98d46"}, "encoding": {"x": {"datum": 0.4955}, "y": {"field": "y", "type": "quantitative", "axis": null}}},
  {"transform": [{"filter": "datum.k === 's'"}], "mark": {"type": "rule", "color": "#333", "strokeWidth": 1}, "encoding": {"x": {"datum": -0.1045}, "x2": {"datum": 0.4955}, "y": {"field": "y", "type": "quantitative", "axis": null}}},
  {"transform": [{"filter": "datum.k === 's'"}], "mark": {"type": "text", "fontSize": 14, "dy": -5, "baseline": "alphabetic", "align": "center", "color": "#333", "font": "Liberation Serif"}, "encoding": {"x": {"datum": -0.0045}, "y": {"field": "y", "type": "quantitative", "axis": null}, "text": {"field": "lab"}}}
 ]}
]},
{"spacing": 0, "bounds": "flush", "resolve": {"scale": {"y": "shared"}}, "title": {"text": "overnight", "dx": 22}, "hconcat": [
 {"transform": [{"filter": "datum.v === 'CHO' && datum.g === 'Yes'"}], "width": 110, "height": 206, "layer": [
  {"transform": [{"filter": "datum.k === 'd'"}], "mark": {"type": "area", "orient": "horizontal", "interpolate": "monotone", "stroke": "#354f58", "strokeWidth": 1.2}, "encoding": {
    "y": {"field": "y", "type": "quantitative", "title": "CHO", "scale": {"domain": [0.84, 10.12], "nice": false, "zero": false}, "axis": {"values": [2.5, 5, 7.5, 10], "format": ".1f"}},
    "x": {"field": "d", "type": "quantitative", "stack": "center", "impute": null, "scale": {"domain": [-0.1, 0.9], "nice": false, "zero": false}, "axis": {"values": [0.5], "labelExpr": "'Yes'", "title": null}},
    "color": {"field": "g", "type": "nominal", "scale": {"domain": ["Yes", "No"], "range": ["#354f58", "#d98d46"]}, "legend": {"title": "overnight", "orient": "none", "legendX": 41, "legendY": -50}}}},
  {"transform": [{"filter": "datum.k === 'b'"}], "mark": {"type": "rect", "fill": "white"}, "encoding": {"x": {"datum": 0.4}, "x2": {"datum": 0.6}, "y": {"field": "q1", "type": "quantitative"}, "y2": {"field": "q3"}}},
  {"transform": [{"filter": "datum.k === 'b'"}], "mark": {"type": "rule", "strokeWidth": 4.5, "color": "#354f58"}, "encoding": {"x": {"datum": 0.4}, "x2": {"datum": 0.6}, "y": {"field": "med", "type": "quantitative"}}},
  {"transform": [{"filter": "datum.k === 'o'"}], "mark": {"type": "circle", "size": 30, "opacity": 1, "color": "#354f58"}, "encoding": {"x": {"datum": 0.5}, "y": {"field": "y", "type": "quantitative"}}},
  {"transform": [{"filter": "datum.k === 's'"}], "mark": {"type": "rule", "color": "#333", "strokeWidth": 1}, "encoding": {"x": {"datum": 0.5}, "x2": {"datum": 0.9}, "y": {"field": "y", "type": "quantitative"}}}
 ]},
 {"transform": [{"filter": "datum.v === 'CHO' && datum.g === 'No'"}], "width": 132, "height": 206, "layer": [
  {"transform": [{"filter": "datum.k === 'd'"}], "mark": {"type": "area", "orient": "horizontal", "interpolate": "monotone", "stroke": "#d98d46", "strokeWidth": 1.2}, "encoding": {
    "y": {"field": "y", "type": "quantitative", "scale": {"domain": [0.84, 10.12], "nice": false, "zero": false}, "axis": null},
    "x": {"field": "d", "type": "quantitative", "stack": "center", "impute": null, "scale": {"domain": [-0.1325, 1.0675], "nice": false, "zero": false}, "axis": {"values": [0.4675], "labelExpr": "'No'", "title": null}},
    "color": {"field": "g", "type": "nominal", "scale": {"domain": ["Yes", "No"], "range": ["#354f58", "#d98d46"]}, "legend": {"title": "overnight", "orient": "none", "legendX": 41, "legendY": -50}}}},
  {"transform": [{"filter": "datum.k === 'b'"}], "mark": {"type": "rect", "fill": "white"}, "encoding": {"x": {"datum": 0.3675}, "x2": {"datum": 0.5675}, "y": {"field": "q1", "type": "quantitative", "axis": null}, "y2": {"field": "q3"}}},
  {"transform": [{"filter": "datum.k === 'b'"}], "mark": {"type": "rule", "strokeWidth": 4.5, "color": "#d98d46"}, "encoding": {"x": {"datum": 0.3675}, "x2": {"datum": 0.5675}, "y": {"field": "med", "type": "quantitative", "axis": null}}},
  {"transform": [{"filter": "datum.k === 'o'"}], "mark": {"type": "circle", "size": 30, "opacity": 1, "color": "#d98d46"}, "encoding": {"x": {"datum": 0.4675}, "y": {"field": "y", "type": "quantitative", "axis": null}}},
  {"transform": [{"filter": "datum.k === 's'"}], "mark": {"type": "rule", "color": "#333", "strokeWidth": 1}, "encoding": {"x": {"datum": -0.1325}, "x2": {"datum": 0.4675}, "y": {"field": "y", "type": "quantitative", "axis": null}}},
  {"transform": [{"filter": "datum.k === 's'"}], "mark": {"type": "text", "fontSize": 14, "dy": -5, "baseline": "alphabetic", "align": "center", "color": "#333", "font": "Liberation Serif"}, "encoding": {"x": {"datum": -0.0325}, "y": {"field": "y", "type": "quantitative", "axis": null}, "text": {"field": "lab"}}}
 ]}
]}
]},
{"spacing": 29, "resolve": {"scale": {"color": "independent"}, "legend": {"color": "independent"}}, "vconcat": [
{"spacing": 30, "resolve": {"scale": {"color": "independent"}, "legend": {"color": "independent"}}, "hconcat": [
{"spacing": 14, "resolve": {"scale": {"color": "independent"}, "legend": {"color": "independent"}}, "hconcat": [
{"spacing": 0, "bounds": "flush", "resolve": {"scale": {"y": "shared"}}, "title": {"text": "overnight", "dx": 22}, "hconcat": [
 {"transform": [{"filter": "datum.v === 'CREA' && datum.g === 'Yes'"}], "width": 110, "height": 206, "layer": [
  {"transform": [{"filter": "datum.k === 'd'"}], "mark": {"type": "area", "orient": "horizontal", "interpolate": "monotone", "stroke": "#354f58", "strokeWidth": 1.2}, "encoding": {
    "y": {"field": "y", "type": "quantitative", "title": "CREA", "scale": {"domain": [17.5, 133.8], "nice": false, "zero": false}, "axis": {"values": [25, 50, 75, 100, 125], "minExtent": 28}},
    "x": {"field": "d", "type": "quantitative", "stack": "center", "impute": null, "scale": {"domain": [-0.1, 0.9], "nice": false, "zero": false}, "axis": {"values": [0.5], "labelExpr": "'Yes'", "title": null}},
    "color": {"field": "g", "type": "nominal", "scale": {"domain": ["Yes", "No"], "range": ["#354f58", "#d98d46"]}, "legend": {"title": "overnight", "orient": "none", "legendX": 52, "legendY": -56.6}}}},
  {"transform": [{"filter": "datum.k === 'b'"}], "mark": {"type": "rect", "fill": "white"}, "encoding": {"x": {"datum": 0.4}, "x2": {"datum": 0.6}, "y": {"field": "q1", "type": "quantitative"}, "y2": {"field": "q3"}}},
  {"transform": [{"filter": "datum.k === 'b'"}], "mark": {"type": "rule", "strokeWidth": 4.5, "color": "#354f58"}, "encoding": {"x": {"datum": 0.4}, "x2": {"datum": 0.6}, "y": {"field": "med", "type": "quantitative"}}},
  {"transform": [{"filter": "datum.k === 'o'"}], "mark": {"type": "circle", "size": 30, "opacity": 1, "color": "#354f58"}, "encoding": {"x": {"datum": 0.5}, "y": {"field": "y", "type": "quantitative"}}},
  {"transform": [{"filter": "datum.k === 's'"}], "mark": {"type": "rule", "color": "#333", "strokeWidth": 1}, "encoding": {"x": {"datum": 0.5}, "x2": {"datum": 0.9}, "y": {"field": "y", "type": "quantitative"}}}
 ]},
 {"transform": [{"filter": "datum.v === 'CREA' && datum.g === 'No'"}], "width": 132, "height": 206, "layer": [
  {"transform": [{"filter": "datum.k === 'd'"}], "mark": {"type": "area", "orient": "horizontal", "interpolate": "monotone", "stroke": "#d98d46", "strokeWidth": 1.2}, "encoding": {
    "y": {"field": "y", "type": "quantitative", "scale": {"domain": [17.5, 133.8], "nice": false, "zero": false}, "axis": null},
    "x": {"field": "d", "type": "quantitative", "stack": "center", "impute": null, "scale": {"domain": [-0.127, 1.073], "nice": false, "zero": false}, "axis": {"values": [0.473], "labelExpr": "'No'", "title": null}},
    "color": {"field": "g", "type": "nominal", "scale": {"domain": ["Yes", "No"], "range": ["#354f58", "#d98d46"]}, "legend": {"title": "overnight", "orient": "none", "legendX": 52, "legendY": -56.6}}}},
  {"transform": [{"filter": "datum.k === 'b'"}], "mark": {"type": "rect", "fill": "white"}, "encoding": {"x": {"datum": 0.373}, "x2": {"datum": 0.573}, "y": {"field": "q1", "type": "quantitative", "axis": null}, "y2": {"field": "q3"}}},
  {"transform": [{"filter": "datum.k === 'b'"}], "mark": {"type": "rule", "strokeWidth": 4.5, "color": "#d98d46"}, "encoding": {"x": {"datum": 0.373}, "x2": {"datum": 0.573}, "y": {"field": "med", "type": "quantitative", "axis": null}}},
  {"transform": [{"filter": "datum.k === 'o'"}], "mark": {"type": "circle", "size": 30, "opacity": 1, "color": "#d98d46"}, "encoding": {"x": {"datum": 0.473}, "y": {"field": "y", "type": "quantitative", "axis": null}}},
  {"transform": [{"filter": "datum.k === 's'"}], "mark": {"type": "rule", "color": "#333", "strokeWidth": 1}, "encoding": {"x": {"datum": -0.127}, "x2": {"datum": 0.473}, "y": {"field": "y", "type": "quantitative", "axis": null}}},
  {"transform": [{"filter": "datum.k === 's'"}], "mark": {"type": "text", "fontSize": 14, "dy": -5, "baseline": "alphabetic", "align": "center", "color": "#333", "font": "Liberation Serif"}, "encoding": {"x": {"datum": -0.027}, "y": {"field": "y", "type": "quantitative", "axis": null}, "text": {"field": "lab"}}}
 ]}
]},
{"spacing": 0, "bounds": "flush", "resolve": {"scale": {"y": "shared"}}, "title": {"text": "overnight", "dx": 17}, "hconcat": [
 {"transform": [{"filter": "datum.v === 'GLU0' && datum.g === 'Yes'"}], "width": 110, "height": 206, "layer": [
  {"transform": [{"filter": "datum.k === 'd'"}], "mark": {"type": "area", "orient": "horizontal", "interpolate": "monotone", "stroke": "#354f58", "strokeWidth": 1.2}, "encoding": {
    "y": {"field": "y", "type": "quantitative", "title": "GLU0", "scale": {"domain": [1.68, 18.25], "nice": false, "zero": false}, "axis": {"values": [5, 10, 15]}},
    "x": {"field": "d", "type": "quantitative", "stack": "center", "impute": null, "scale": {"domain": [-0.1, 0.9], "nice": false, "zero": false}, "axis": {"values": [0.5], "labelExpr": "'Yes'", "title": null}},
    "color": {"field": "g", "type": "nominal", "scale": {"domain": ["Yes", "No"], "range": ["#354f58", "#d98d46"]}, "legend": {"title": "overnight", "orient": "none", "legendX": 43, "legendY": -56.6}}}},
  {"transform": [{"filter": "datum.k === 'b'"}], "mark": {"type": "rect", "fill": "white"}, "encoding": {"x": {"datum": 0.4}, "x2": {"datum": 0.6}, "y": {"field": "q1", "type": "quantitative"}, "y2": {"field": "q3"}}},
  {"transform": [{"filter": "datum.k === 'b'"}], "mark": {"type": "rule", "strokeWidth": 4.5, "color": "#354f58"}, "encoding": {"x": {"datum": 0.4}, "x2": {"datum": 0.6}, "y": {"field": "med", "type": "quantitative"}}},
  {"transform": [{"filter": "datum.k === 'o'"}], "mark": {"type": "circle", "size": 30, "opacity": 1, "color": "#354f58"}, "encoding": {"x": {"datum": 0.5}, "y": {"field": "y", "type": "quantitative"}}},
  {"transform": [{"filter": "datum.k === 's'"}], "mark": {"type": "rule", "color": "#333", "strokeWidth": 1}, "encoding": {"x": {"datum": 0.5}, "x2": {"datum": 0.9}, "y": {"field": "y", "type": "quantitative"}}}
 ]},
 {"transform": [{"filter": "datum.v === 'GLU0' && datum.g === 'No'"}], "width": 132, "height": 206, "layer": [
  {"transform": [{"filter": "datum.k === 'd'"}], "mark": {"type": "area", "orient": "horizontal", "interpolate": "monotone", "stroke": "#d98d46", "strokeWidth": 1.2}, "encoding": {
    "y": {"field": "y", "type": "quantitative", "scale": {"domain": [1.68, 18.25], "nice": false, "zero": false}, "axis": null},
    "x": {"field": "d", "type": "quantitative", "stack": "center", "impute": null, "scale": {"domain": [-0.173, 1.027], "nice": false, "zero": false}, "axis": {"values": [0.427], "labelExpr": "'No'", "title": null}},
    "color": {"field": "g", "type": "nominal", "scale": {"domain": ["Yes", "No"], "range": ["#354f58", "#d98d46"]}, "legend": {"title": "overnight", "orient": "none", "legendX": 43, "legendY": -56.6}}}},
  {"transform": [{"filter": "datum.k === 'b'"}], "mark": {"type": "rect", "fill": "white"}, "encoding": {"x": {"datum": 0.327}, "x2": {"datum": 0.527}, "y": {"field": "q1", "type": "quantitative", "axis": null}, "y2": {"field": "q3"}}},
  {"transform": [{"filter": "datum.k === 'b'"}], "mark": {"type": "rule", "strokeWidth": 4.5, "color": "#d98d46"}, "encoding": {"x": {"datum": 0.327}, "x2": {"datum": 0.527}, "y": {"field": "med", "type": "quantitative", "axis": null}}},
  {"transform": [{"filter": "datum.k === 'o'"}], "mark": {"type": "circle", "size": 30, "opacity": 1, "color": "#d98d46"}, "encoding": {"x": {"datum": 0.427}, "y": {"field": "y", "type": "quantitative", "axis": null}}},
  {"transform": [{"filter": "datum.k === 's'"}], "mark": {"type": "rule", "color": "#333", "strokeWidth": 1}, "encoding": {"x": {"datum": -0.173}, "x2": {"datum": 0.427}, "y": {"field": "y", "type": "quantitative", "axis": null}}},
  {"transform": [{"filter": "datum.k === 's'"}], "mark": {"type": "text", "fontSize": 14, "dy": -5, "baseline": "alphabetic", "align": "center", "color": "#333", "font": "Liberation Serif"}, "encoding": {"x": {"datum": -0.073}, "y": {"field": "y", "type": "quantitative", "axis": null}, "text": {"field": "lab"}}}
 ]}
]},
{"spacing": 0, "bounds": "flush", "resolve": {"scale": {"y": "shared"}}, "title": {"text": "overnight", "dx": 13.5}, "hconcat": [
 {"transform": [{"filter": "datum.v === 'HDLC' && datum.g === 'Yes'"}], "width": 110, "height": 206, "layer": [
  {"transform": [{"filter": "datum.k === 'd'"}], "mark": {"type": "area", "orient": "horizontal", "interpolate": "monotone", "stroke": "#354f58", "strokeWidth": 1.2}, "encoding": {
    "y": {"field": "y", "type": "quantitative", "title": "HDLC", "scale": {"domain": [-0.087, 3.51], "nice": false, "zero": false}, "axis": {"values": [0, 1, 2, 3], "format": "d"}},
    "x": {"field": "d", "type": "quantitative", "stack": "center", "impute": null, "scale": {"domain": [-0.1255, 0.8745], "nice": false, "zero": false}, "axis": {"values": [0.4745], "labelExpr": "'Yes'", "title": null}},
    "color": {"field": "g", "type": "nominal", "scale": {"domain": ["Yes", "No"], "range": ["#354f58", "#d98d46"]}, "legend": {"title": "overnight", "orient": "none", "legendX": 50, "legendY": -56.6}}}},
  {"transform": [{"filter": "datum.k === 'b'"}], "mark": {"type": "rect", "fill": "white"}, "encoding": {"x": {"datum": 0.3745}, "x2": {"datum": 0.5745}, "y": {"field": "q1", "type": "quantitative"}, "y2": {"field": "q3"}}},
  {"transform": [{"filter": "datum.k === 'b'"}], "mark": {"type": "rule", "strokeWidth": 4.5, "color": "#354f58"}, "encoding": {"x": {"datum": 0.3745}, "x2": {"datum": 0.5745}, "y": {"field": "med", "type": "quantitative"}}},
  {"transform": [{"filter": "datum.k === 'o'"}], "mark": {"type": "circle", "size": 30, "opacity": 1, "color": "#354f58"}, "encoding": {"x": {"datum": 0.4745}, "y": {"field": "y", "type": "quantitative"}}},
  {"transform": [{"filter": "datum.k === 's'"}], "mark": {"type": "rule", "color": "#333", "strokeWidth": 1}, "encoding": {"x": {"datum": 0.4745}, "x2": {"datum": 0.8745}, "y": {"field": "y", "type": "quantitative"}}}
 ]},
 {"transform": [{"filter": "datum.v === 'HDLC' && datum.g === 'No'"}], "width": 132, "height": 206, "layer": [
  {"transform": [{"filter": "datum.k === 'd'"}], "mark": {"type": "area", "orient": "horizontal", "interpolate": "monotone", "stroke": "#d98d46", "strokeWidth": 1.2}, "encoding": {
    "y": {"field": "y", "type": "quantitative", "scale": {"domain": [-0.087, 3.51], "nice": false, "zero": false}, "axis": null},
    "x": {"field": "d", "type": "quantitative", "stack": "center", "impute": null, "scale": {"domain": [-0.1, 1.1], "nice": false, "zero": false}, "axis": {"values": [0.5], "labelExpr": "'No'", "title": null}},
    "color": {"field": "g", "type": "nominal", "scale": {"domain": ["Yes", "No"], "range": ["#354f58", "#d98d46"]}, "legend": {"title": "overnight", "orient": "none", "legendX": 50, "legendY": -56.6}}}},
  {"transform": [{"filter": "datum.k === 'b'"}], "mark": {"type": "rect", "fill": "white"}, "encoding": {"x": {"datum": 0.4}, "x2": {"datum": 0.6}, "y": {"field": "q1", "type": "quantitative", "axis": null}, "y2": {"field": "q3"}}},
  {"transform": [{"filter": "datum.k === 'b'"}], "mark": {"type": "rule", "strokeWidth": 4.5, "color": "#d98d46"}, "encoding": {"x": {"datum": 0.4}, "x2": {"datum": 0.6}, "y": {"field": "med", "type": "quantitative", "axis": null}}},
  {"transform": [{"filter": "datum.k === 'o'"}], "mark": {"type": "circle", "size": 30, "opacity": 1, "color": "#d98d46"}, "encoding": {"x": {"datum": 0.5}, "y": {"field": "y", "type": "quantitative", "axis": null}}},
  {"transform": [{"filter": "datum.k === 's'"}], "mark": {"type": "rule", "color": "#333", "strokeWidth": 1}, "encoding": {"x": {"datum": -0.1}, "x2": {"datum": 0.5}, "y": {"field": "y", "type": "quantitative", "axis": null}}},
  {"transform": [{"filter": "datum.k === 's'"}], "mark": {"type": "text", "fontSize": 14, "dy": -5, "baseline": "alphabetic", "align": "center", "color": "#333", "font": "Liberation Serif"}, "encoding": {"x": {"datum": 0.0}, "y": {"field": "y", "type": "quantitative", "axis": null}, "text": {"field": "lab"}}}
 ]}
]}
]},
{"spacing": 0, "bounds": "flush", "resolve": {"scale": {"y": "shared"}}, "title": {"text": "overnight", "dx": 13.5}, "hconcat": [
 {"transform": [{"filter": "datum.v === 'LDLC' && datum.g === 'Yes'"}], "width": 110, "height": 206, "layer": [
  {"transform": [{"filter": "datum.k === 'd'"}], "mark": {"type": "area", "orient": "horizontal", "interpolate": "monotone", "stroke": "#354f58", "strokeWidth": 1.2}, "encoding": {
    "y": {"field": "y", "type": "quantitative", "title": "LDLC", "scale": {"domain": [-0.05, 8.02], "nice": false, "zero": false}, "axis": {"values": [0, 2, 4, 6, 8]}},
    "x": {"field": "d", "type": "quantitative", "stack": "center", "impute": null, "scale": {"domain": [-0.1, 0.9], "nice": false, "zero": false}, "axis": {"values": [0.5], "labelExpr": "'Yes'", "title": null}},
    "color": {"field": "g", "type": "nominal", "scale": {"domain": ["Yes", "No"], "range": ["#354f58", "#d98d46"]}, "legend": {"title": "overnight", "orient": "none", "legendX": 53, "legendY": -56.6}}}},
  {"transform": [{"filter": "datum.k === 'b'"}], "mark": {"type": "rect", "fill": "white"}, "encoding": {"x": {"datum": 0.4}, "x2": {"datum": 0.6}, "y": {"field": "q1", "type": "quantitative"}, "y2": {"field": "q3"}}},
  {"transform": [{"filter": "datum.k === 'b'"}], "mark": {"type": "rule", "strokeWidth": 4.5, "color": "#354f58"}, "encoding": {"x": {"datum": 0.4}, "x2": {"datum": 0.6}, "y": {"field": "med", "type": "quantitative"}}},
  {"transform": [{"filter": "datum.k === 'o'"}], "mark": {"type": "circle", "size": 30, "opacity": 1, "color": "#354f58"}, "encoding": {"x": {"datum": 0.5}, "y": {"field": "y", "type": "quantitative"}}},
  {"transform": [{"filter": "datum.k === 's'"}], "mark": {"type": "rule", "color": "#333", "strokeWidth": 1}, "encoding": {"x": {"datum": 0.5}, "x2": {"datum": 0.9}, "y": {"field": "y", "type": "quantitative"}}}
 ]},
 {"transform": [{"filter": "datum.v === 'LDLC' && datum.g === 'No'"}], "width": 132, "height": 206, "layer": [
  {"transform": [{"filter": "datum.k === 'd'"}], "mark": {"type": "area", "orient": "horizontal", "interpolate": "monotone", "stroke": "#d98d46", "strokeWidth": 1.2}, "encoding": {
    "y": {"field": "y", "type": "quantitative", "scale": {"domain": [-0.05, 8.02], "nice": false, "zero": false}, "axis": null},
    "x": {"field": "d", "type": "quantitative", "stack": "center", "impute": null, "scale": {"domain": [-0.121, 1.079], "nice": false, "zero": false}, "axis": {"values": [0.479], "labelExpr": "'No'", "title": null}},
    "color": {"field": "g", "type": "nominal", "scale": {"domain": ["Yes", "No"], "range": ["#354f58", "#d98d46"]}, "legend": {"title": "overnight", "orient": "none", "legendX": 53, "legendY": -56.6}}}},
  {"transform": [{"filter": "datum.k === 'b'"}], "mark": {"type": "rect", "fill": "white"}, "encoding": {"x": {"datum": 0.379}, "x2": {"datum": 0.579}, "y": {"field": "q1", "type": "quantitative", "axis": null}, "y2": {"field": "q3"}}},
  {"transform": [{"filter": "datum.k === 'b'"}], "mark": {"type": "rule", "strokeWidth": 4.5, "color": "#d98d46"}, "encoding": {"x": {"datum": 0.379}, "x2": {"datum": 0.579}, "y": {"field": "med", "type": "quantitative", "axis": null}}},
  {"transform": [{"filter": "datum.k === 'o'"}], "mark": {"type": "circle", "size": 30, "opacity": 1, "color": "#d98d46"}, "encoding": {"x": {"datum": 0.479}, "y": {"field": "y", "type": "quantitative", "axis": null}}},
  {"transform": [{"filter": "datum.k === 's'"}], "mark": {"type": "rule", "color": "#333", "strokeWidth": 1}, "encoding": {"x": {"datum": -0.121}, "x2": {"datum": 0.479}, "y": {"field": "y", "type": "quantitative", "axis": null}}},
  {"transform": [{"filter": "datum.k === 's'"}], "mark": {"type": "text", "fontSize": 14, "dy": -5, "baseline": "alphabetic", "align": "center", "color": "#333", "font": "Liberation Serif"}, "encoding": {"x": {"datum": -0.021}, "y": {"field": "y", "type": "quantitative", "axis": null}, "text": {"field": "lab"}}}
 ]}
]}
]},
{"spacing": 15, "resolve": {"scale": {"color": "independent"}, "legend": {"color": "independent"}}, "hconcat": [
{"spacing": 0, "bounds": "flush", "resolve": {"scale": {"y": "shared"}}, "title": {"text": "overnight", "dx": 17.5}, "hconcat": [
 {"transform": [{"filter": "datum.v === 'TG' && datum.g === 'Yes'"}], "width": 110, "height": 206, "layer": [
  {"transform": [{"filter": "datum.k === 'd'"}], "mark": {"type": "area", "orient": "horizontal", "interpolate": "monotone", "stroke": "#354f58", "strokeWidth": 1.2}, "encoding": {
    "y": {"field": "y", "type": "quantitative", "title": "TG", "scale": {"domain": [-0.61, 7.75], "nice": false, "zero": false}, "axis": {"values": [0, 2, 4, 6], "minExtent": 19}},
    "x": {"field": "d", "type": "quantitative", "stack": "center", "impute": null, "scale": {"domain": [-0.1, 0.9], "nice": false, "zero": false}, "axis": {"values": [0.5], "labelExpr": "'Yes'", "title": null}},
    "color": {"field": "g", "type": "nominal", "scale": {"domain": ["Yes", "No"], "range": ["#354f58", "#d98d46"]}, "legend": {"title": "overnight", "orient": "none", "legendX": 51, "legendY": -60}}}},
  {"transform": [{"filter": "datum.k === 'b'"}], "mark": {"type": "rect", "fill": "white"}, "encoding": {"x": {"datum": 0.4}, "x2": {"datum": 0.6}, "y": {"field": "q1", "type": "quantitative"}, "y2": {"field": "q3"}}},
  {"transform": [{"filter": "datum.k === 'b'"}], "mark": {"type": "rule", "strokeWidth": 4.5, "color": "#354f58"}, "encoding": {"x": {"datum": 0.4}, "x2": {"datum": 0.6}, "y": {"field": "med", "type": "quantitative"}}},
  {"transform": [{"filter": "datum.k === 'o'"}], "mark": {"type": "circle", "size": 30, "opacity": 1, "color": "#354f58"}, "encoding": {"x": {"datum": 0.5}, "y": {"field": "y", "type": "quantitative"}}},
  {"transform": [{"filter": "datum.k === 's'"}], "mark": {"type": "rule", "color": "#333", "strokeWidth": 1}, "encoding": {"x": {"datum": 0.5}, "x2": {"datum": 0.9}, "y": {"field": "y", "type": "quantitative"}}}
 ]},
 {"transform": [{"filter": "datum.v === 'TG' && datum.g === 'No'"}], "width": 132, "height": 206, "layer": [
  {"transform": [{"filter": "datum.k === 'd'"}], "mark": {"type": "area", "orient": "horizontal", "interpolate": "monotone", "stroke": "#d98d46", "strokeWidth": 1.2}, "encoding": {
    "y": {"field": "y", "type": "quantitative", "scale": {"domain": [-0.61, 7.75], "nice": false, "zero": false}, "axis": null},
    "x": {"field": "d", "type": "quantitative", "stack": "center", "impute": null, "scale": {"domain": [-0.228, 0.972], "nice": false, "zero": false}, "axis": {"values": [0.372], "labelExpr": "'No'", "title": null}},
    "color": {"field": "g", "type": "nominal", "scale": {"domain": ["Yes", "No"], "range": ["#354f58", "#d98d46"]}, "legend": {"title": "overnight", "orient": "none", "legendX": 51, "legendY": -60}}}},
  {"transform": [{"filter": "datum.k === 'b'"}], "mark": {"type": "rect", "fill": "white"}, "encoding": {"x": {"datum": 0.272}, "x2": {"datum": 0.472}, "y": {"field": "q1", "type": "quantitative", "axis": null}, "y2": {"field": "q3"}}},
  {"transform": [{"filter": "datum.k === 'b'"}], "mark": {"type": "rule", "strokeWidth": 4.5, "color": "#d98d46"}, "encoding": {"x": {"datum": 0.272}, "x2": {"datum": 0.472}, "y": {"field": "med", "type": "quantitative", "axis": null}}},
  {"transform": [{"filter": "datum.k === 'o'"}], "mark": {"type": "circle", "size": 30, "opacity": 1, "color": "#d98d46"}, "encoding": {"x": {"datum": 0.372}, "y": {"field": "y", "type": "quantitative", "axis": null}}},
  {"transform": [{"filter": "datum.k === 's'"}], "mark": {"type": "rule", "color": "#333", "strokeWidth": 1}, "encoding": {"x": {"datum": -0.228}, "x2": {"datum": 0.372}, "y": {"field": "y", "type": "quantitative", "axis": null}}},
  {"transform": [{"filter": "datum.k === 's'"}], "mark": {"type": "text", "fontSize": 14, "dy": -5, "baseline": "alphabetic", "align": "center", "color": "#333", "font": "Liberation Serif"}, "encoding": {"x": {"datum": -0.128}, "y": {"field": "y", "type": "quantitative", "axis": null}, "text": {"field": "lab"}}}
 ]}
]},
{"spacing": 0, "bounds": "flush", "resolve": {"scale": {"y": "shared"}}, "title": {"text": "overnight", "dx": 20.5}, "hconcat": [
 {"transform": [{"filter": "datum.v === 'UA' && datum.g === 'Yes'"}], "width": 110, "height": 206, "layer": [
  {"transform": [{"filter": "datum.k === 'd'"}], "mark": {"type": "area", "orient": "horizontal", "interpolate": "monotone", "stroke": "#354f58", "strokeWidth": 1.2}, "encoding": {
    "y": {"field": "y", "type": "quantitative", "title": "UA", "scale": {"domain": [8.8, 733.8], "nice": false, "zero": false}, "axis": {"values": [200, 400, 600]}},
    "x": {"field": "d", "type": "quantitative", "stack": "center", "impute": null, "scale": {"domain": [-0.1, 0.9], "nice": false, "zero": false}, "axis": {"values": [0.5], "labelExpr": "'Yes'", "title": null}},
    "color": {"field": "g", "type": "nominal", "scale": {"domain": ["Yes", "No"], "range": ["#354f58", "#d98d46"]}, "legend": {"title": "overnight", "orient": "none", "legendX": 46, "legendY": -60}}}},
  {"transform": [{"filter": "datum.k === 'b'"}], "mark": {"type": "rect", "fill": "white"}, "encoding": {"x": {"datum": 0.4}, "x2": {"datum": 0.6}, "y": {"field": "q1", "type": "quantitative"}, "y2": {"field": "q3"}}},
  {"transform": [{"filter": "datum.k === 'b'"}], "mark": {"type": "rule", "strokeWidth": 4.5, "color": "#354f58"}, "encoding": {"x": {"datum": 0.4}, "x2": {"datum": 0.6}, "y": {"field": "med", "type": "quantitative"}}},
  {"transform": [{"filter": "datum.k === 'o'"}], "mark": {"type": "circle", "size": 30, "opacity": 1, "color": "#354f58"}, "encoding": {"x": {"datum": 0.5}, "y": {"field": "y", "type": "quantitative"}}},
  {"transform": [{"filter": "datum.k === 's'"}], "mark": {"type": "rule", "color": "#333", "strokeWidth": 1}, "encoding": {"x": {"datum": 0.5}, "x2": {"datum": 0.9}, "y": {"field": "y", "type": "quantitative"}}}
 ]},
 {"transform": [{"filter": "datum.v === 'UA' && datum.g === 'No'"}], "width": 132, "height": 206, "layer": [
  {"transform": [{"filter": "datum.k === 'd'"}], "mark": {"type": "area", "orient": "horizontal", "interpolate": "monotone", "stroke": "#d98d46", "strokeWidth": 1.2}, "encoding": {
    "y": {"field": "y", "type": "quantitative", "scale": {"domain": [8.8, 733.8], "nice": false, "zero": false}, "axis": null},
    "x": {"field": "d", "type": "quantitative", "stack": "center", "impute": null, "scale": {"domain": [-0.198, 1.002], "nice": false, "zero": false}, "axis": {"values": [0.402], "labelExpr": "'No'", "title": null}},
    "color": {"field": "g", "type": "nominal", "scale": {"domain": ["Yes", "No"], "range": ["#354f58", "#d98d46"]}, "legend": {"title": "overnight", "orient": "none", "legendX": 46, "legendY": -60}}}},
  {"transform": [{"filter": "datum.k === 'b'"}], "mark": {"type": "rect", "fill": "white"}, "encoding": {"x": {"datum": 0.302}, "x2": {"datum": 0.502}, "y": {"field": "q1", "type": "quantitative", "axis": null}, "y2": {"field": "q3"}}},
  {"transform": [{"filter": "datum.k === 'b'"}], "mark": {"type": "rule", "strokeWidth": 4.5, "color": "#d98d46"}, "encoding": {"x": {"datum": 0.302}, "x2": {"datum": 0.502}, "y": {"field": "med", "type": "quantitative", "axis": null}}},
  {"transform": [{"filter": "datum.k === 'o'"}], "mark": {"type": "circle", "size": 30, "opacity": 1, "color": "#d98d46"}, "encoding": {"x": {"datum": 0.402}, "y": {"field": "y", "type": "quantitative", "axis": null}}},
  {"transform": [{"filter": "datum.k === 's'"}], "mark": {"type": "rule", "color": "#333", "strokeWidth": 1}, "encoding": {"x": {"datum": -0.198}, "x2": {"datum": 0.402}, "y": {"field": "y", "type": "quantitative", "axis": null}}},
  {"transform": [{"filter": "datum.k === 's'"}], "mark": {"type": "text", "fontSize": 14, "dy": -5, "baseline": "alphabetic", "align": "center", "color": "#333", "font": "Liberation Serif"}, "encoding": {"x": {"datum": -0.098}, "y": {"field": "y", "type": "quantitative", "axis": null}, "text": {"field": "lab"}}}
 ]}
]},
{"spacing": 0, "bounds": "flush", "resolve": {"scale": {"y": "shared"}}, "title": {"text": "overnight", "dx": 13.5}, "hconcat": [
 {"transform": [{"filter": "datum.v === 'UREA' && datum.g === 'Yes'"}], "width": 110, "height": 206, "layer": [
  {"transform": [{"filter": "datum.k === 'd'"}], "mark": {"type": "area", "orient": "horizontal", "interpolate": "monotone", "stroke": "#354f58", "strokeWidth": 1.2}, "encoding": {
    "y": {"field": "y", "type": "quantitative", "title": "UREA", "scale": {"domain": [0.39, 11.34], "nice": false, "zero": false}, "axis": {"values": [3, 6, 9]}},
    "x": {"field": "d", "type": "quantitative", "stack": "center", "impute": null, "scale": {"domain": [-0.1, 0.9], "nice": false, "zero": false}, "axis": {"values": [0.5], "labelExpr": "'Yes'", "title": null}},
    "color": {"field": "g", "type": "nominal", "scale": {"domain": ["Yes", "No"], "range": ["#354f58", "#d98d46"]}, "legend": {"title": "overnight", "orient": "none", "legendX": 56, "legendY": -60}}}},
  {"transform": [{"filter": "datum.k === 'b'"}], "mark": {"type": "rect", "fill": "white"}, "encoding": {"x": {"datum": 0.4}, "x2": {"datum": 0.6}, "y": {"field": "q1", "type": "quantitative"}, "y2": {"field": "q3"}}},
  {"transform": [{"filter": "datum.k === 'b'"}], "mark": {"type": "rule", "strokeWidth": 4.5, "color": "#354f58"}, "encoding": {"x": {"datum": 0.4}, "x2": {"datum": 0.6}, "y": {"field": "med", "type": "quantitative"}}},
  {"transform": [{"filter": "datum.k === 'o'"}], "mark": {"type": "circle", "size": 30, "opacity": 1, "color": "#354f58"}, "encoding": {"x": {"datum": 0.5}, "y": {"field": "y", "type": "quantitative"}}},
  {"transform": [{"filter": "datum.k === 's'"}], "mark": {"type": "rule", "color": "#333", "strokeWidth": 1}, "encoding": {"x": {"datum": 0.5}, "x2": {"datum": 0.9}, "y": {"field": "y", "type": "quantitative"}}}
 ]},
 {"transform": [{"filter": "datum.v === 'UREA' && datum.g === 'No'"}], "width": 132, "height": 206, "layer": [
  {"transform": [{"filter": "datum.k === 'd'"}], "mark": {"type": "area", "orient": "horizontal", "interpolate": "monotone", "stroke": "#d98d46", "strokeWidth": 1.2}, "encoding": {
    "y": {"field": "y", "type": "quantitative", "scale": {"domain": [0.39, 11.34], "nice": false, "zero": false}, "axis": null},
    "x": {"field": "d", "type": "quantitative", "stack": "center", "impute": null, "scale": {"domain": [-0.163, 1.037], "nice": false, "zero": false}, "axis": {"values": [0.437], "labelExpr": "'No'", "title": null}},
    "color": {"field": "g", "type": "nominal", "scale": {"domain": ["Yes", "No"], "range": ["#354f58", "#d98d46"]}, "legend": {"title": "overnight", "orient": "none", "legendX": 56, "legendY": -60}}}},
  {"transform": [{"filter": "datum.k === 'b'"}], "mark": {"type": "rect", "fill": "white"}, "encoding": {"x": {"datum": 0.337}, "x2": {"datum": 0.537}, "y": {"field": "q1", "type": "quantitative", "axis": null}, "y2": {"field": "q3"}}},
  {"transform": [{"filter": "datum.k === 'b'"}], "mark": {"type": "rule", "strokeWidth": 4.5, "color": "#d98d46"}, "encoding": {"x": {"datum": 0.337}, "x2": {"datum": 0.537}, "y": {"field": "med", "type": "quantitative", "axis": null}}},
  {"transform": [{"filter": "datum.k === 'o'"}], "mark": {"type": "circle", "size": 30, "opacity": 1, "color": "#d98d46"}, "encoding": {"x": {"datum": 0.437}, "y": {"field": "y", "type": "quantitative", "axis": null}}},
  {"transform": [{"filter": "datum.k === 's'"}], "mark": {"type": "rule", "color": "#333", "strokeWidth": 1}, "encoding": {"x": {"datum": -0.163}, "x2": {"datum": 0.437}, "y": {"field": "y", "type": "quantitative", "axis": null}}},
  {"transform": [{"filter": "datum.k === 's'"}], "mark": {"type": "text", "fontSize": 14, "dy": -5, "baseline": "alphabetic", "align": "center", "color": "#333", "font": "Liberation Serif"}, "encoding": {"x": {"datum": -0.063}, "y": {"field": "y", "type": "quantitative", "axis": null}, "text": {"field": "lab"}}}
 ]}
]}
]}
]}
]
}
